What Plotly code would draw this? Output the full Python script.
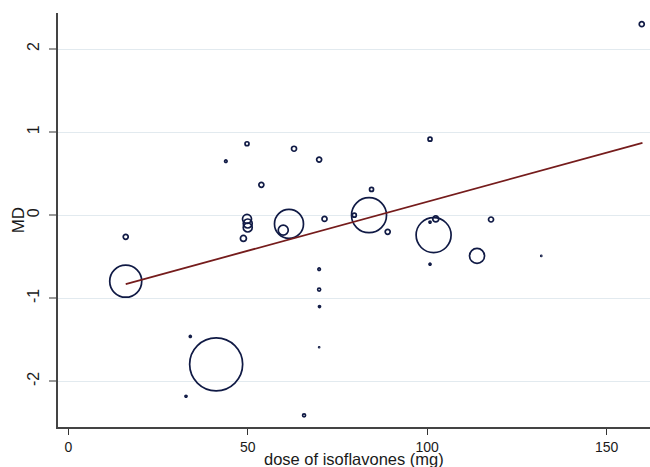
import plotly.graph_objects as go

# study-level data: dose (mg), mean difference, marker diameter (study weight)
dose = [16.0, 16.0, 32.8, 34.0, 41.2, 43.9, 48.8, 49.8, 49.8, 50.0, 50.0, 53.8,
        59.9, 61.5, 62.9, 65.7, 69.9, 69.9, 69.9, 70.0, 69.9, 71.4, 79.7, 83.8,
        84.5, 89.0, 100.8, 100.8, 100.8, 101.8, 102.4, 113.9, 117.8, 131.8, 159.8]
md = [-0.26, -0.795, -2.18, -1.46, -1.795, 0.65, -0.28, 0.86, -0.045, -0.10, -0.148, 0.365,
      -0.18, -0.105, 0.80, -2.41, 0.67, -0.65, -0.895, -1.10, -1.59, -0.045, 0.0, 0.0,
      0.31, -0.20, 0.915, -0.084, -0.59, -0.24, -0.045, -0.49, -0.052, -0.49, 2.30]
weight = [5, 32, 2, 2, 53, 2.5, 6, 4, 9, 9, 9, 5,
          10, 29, 5, 3, 5, 2.5, 3, 2, 1, 5, 4, 35,
          4, 5, 4, 2, 2, 35, 6, 15, 5, 1, 5]

# meta-regression fitted line
fit_x = [16, 160]
fit_y = [-0.83, 0.87]

x_ticks = [0, 50, 100, 150]
y_ticks = [-2, -1, 0, 1, 2]
x_title = "dose of isoflavones (mg)"
y_title = "MD"

navy = "#101a45"

fig = go.Figure()
fig.add_trace(go.Scatter(
    x=dose, y=md, mode="markers",
    marker=dict(size=weight, sizemode="diameter", color="rgba(255,255,255,0)",
                opacity=1, line=dict(color=navy, width=1.7)),
    hoverinfo="skip", showlegend=False,
))
fig.add_trace(go.Scatter(
    x=fit_x, y=fit_y, mode="lines",
    line=dict(color="#751c1c", width=1.8),
    hoverinfo="skip", showlegend=False,
))

fig.update_layout(
    width=650, height=467,
    margin=dict(l=58, r=0, t=13, b=40),
    paper_bgcolor="white", plot_bgcolor="white",
    font=dict(family="Liberation Sans, Arial, sans-serif", color="#1a1a1a", size=14),
    annotations=[
        dict(text=x_title, xref="paper", yref="paper", x=0.5, y=-0.077,
             xanchor="center", yanchor="middle", showarrow=False,
             font=dict(size=16.5, color="#1a1a1a")),
        dict(text=y_title, xref="paper", yref="paper", x=-0.067, y=0.5,
             xanchor="center", yanchor="middle", showarrow=False, textangle=-90,
             font=dict(size=17, color="#1a1a1a")),
    ],
)
fig.update_xaxes(
    range=[-2.87, 162.1], tickvals=x_ticks, ticktext=[str(v) for v in x_ticks],
    showgrid=False, zeroline=False, automargin=False,
    showline=True, linecolor="#444444", linewidth=1.5,
    ticks="outside", ticklen=6, tickcolor="#333333", tickwidth=1,
    tickfont=dict(size=14),
)
fig.update_yaxes(
    range=[-2.55, 2.434], tickvals=y_ticks, ticktext=[str(v) for v in y_ticks],
    tickangle=-90, automargin=False,
    showgrid=True, gridcolor="#e2eaef", gridwidth=1, zeroline=False,
    showline=True, linecolor="#444444", linewidth=1.5,
    ticks="outside", ticklen=7, tickcolor="#999999", tickwidth=1.5,
    tickfont=dict(size=16), ticklabelstandoff=4,
)

fig.write_html("out.html")
